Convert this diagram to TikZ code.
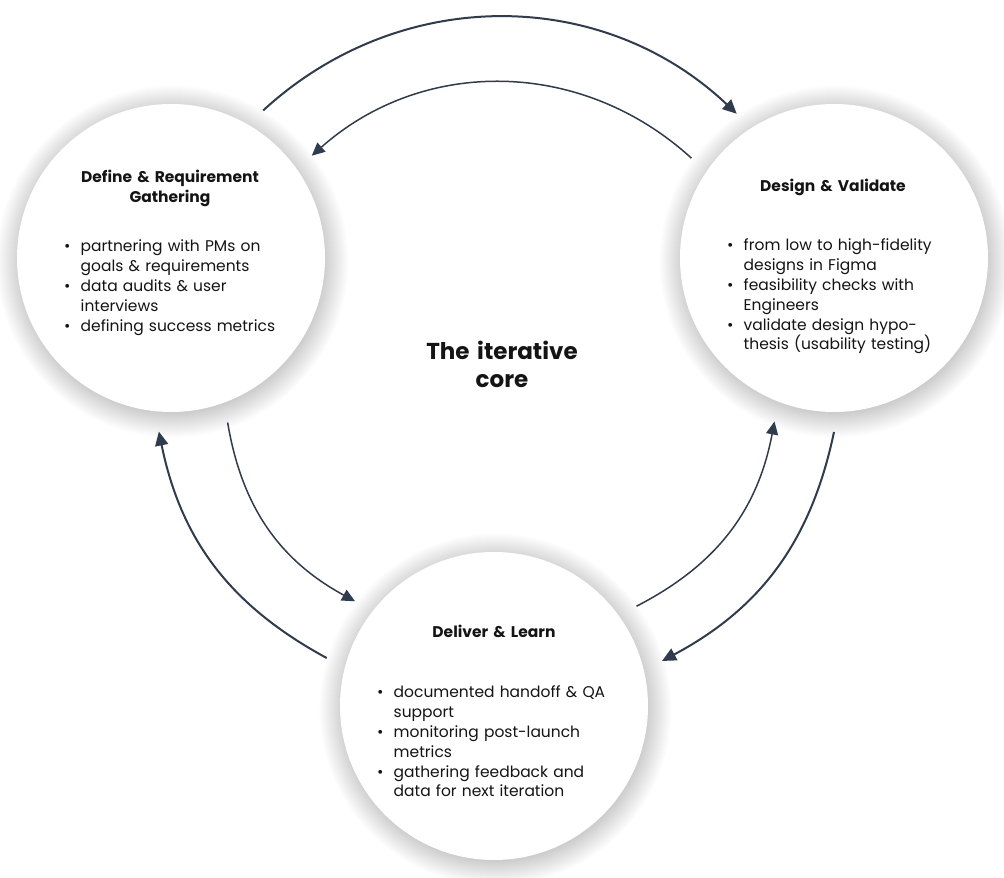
\documentclass[tikz,border=0pt]{standalone}
\usepackage{fontspec}
\setmainfont{Poppins}
\usetikzlibrary{arrows.meta}
\definecolor{arrowc}{HTML}{2F3B4F}
\definecolor{txt}{HTML}{141414}
\newcommand{\bitem}[1]{\noindent\hangindent=16.5pt\hangafter=1\makebox[16.5pt][l]{•}#1\par}
\tikzset{
  stage/.style={circle, fill=white, minimum size=308pt, inner sep=0pt, outer sep=20pt},
  halo/.style={fill=black, opacity=0.0095},
  flow/.style={draw=arrowc, line width=2pt, -{Triangle[length=14pt,width=13pt]}},
  flowthin/.style={draw=arrowc, line width=1.5pt, -{Triangle[length=13pt,width=12pt]}},
  title/.style={font=\bfseries\fontsize{15.5}{19.7}\selectfont, text width=250pt, align=center,
    anchor=base, inner sep=0pt, text=txt},
  blist/.style={font=\fontsize{15.5}{19.8}\selectfont, text width=250pt, align=left,
    anchor=base west, inner sep=0pt, text=txt},
  core/.style={font=\bfseries\fontsize{23}{28}\selectfont, text width=200pt, align=center,
    anchor=base, inner sep=0pt, text=txt}
}
\begin{document}
\begin{tikzpicture}[x=1pt,y=1pt]
\useasboundingbox (0,0) rectangle (1004,878);
\fill[white] (0,0) rectangle (1004,878);

% soft shadows behind the circles
\foreach \cx/\cy in {171/620, 834/620, 494/172}{
  \foreach \k in {-2,...,22}{
    \fill[halo] (\cx+1.5,\cy-3.5) circle ({154+\k});
  }
}

\node[stage] (L) at (171,620) {};
\node[stage] (R) at (834,620) {};
\node[stage] (B) at (494,172) {};

\node[title] (Lt) at (170,695) {Define \& Requirement\\Gathering};
\node[blist] (Lb) at (64,626) {\bitem{partnering with PMs on\break goals \& requirements}
\bitem{data audits \& user\break interviews}
\bitem{defining success metrics}};

\node[title] (Rt) at (833,686) {Design \& Validate};
\node[blist] (Rb) at (727,627) {\bitem{from low to high-fidelity\break designs in Figma}
\bitem{feasibility checks with\break Engineers}
\bitem{validate design hypo-\break thesis (usability testing)}};

\node[title] (Bt) at (494,240) {Deliver \& Learn};
\node[blist] (Bb) at (377,180) {\bitem{documented handoff \& QA\break support}
\bitem{monitoring post-launch\break metrics}
\bitem{gathering feedback and\break data for next iteration}};

\node[core] (C) at (502,518) {The iterative\\core};

\draw[flow] (L.58) to[bend left=43] (R.124.6);
\draw[flowthin] (R.145) to[bend right=42] (L.36.5);
\draw[flow] (B.164) to[bend left=25] (L.266);
\draw[flowthin] (L.289) to[bend right=26] (B.143);
\draw[flowthin] (B.35.5) to[bend right=26] (R.250);
\draw[flow] (R.270) to[bend left=25] (B.15);
\end{tikzpicture}
\end{document}
